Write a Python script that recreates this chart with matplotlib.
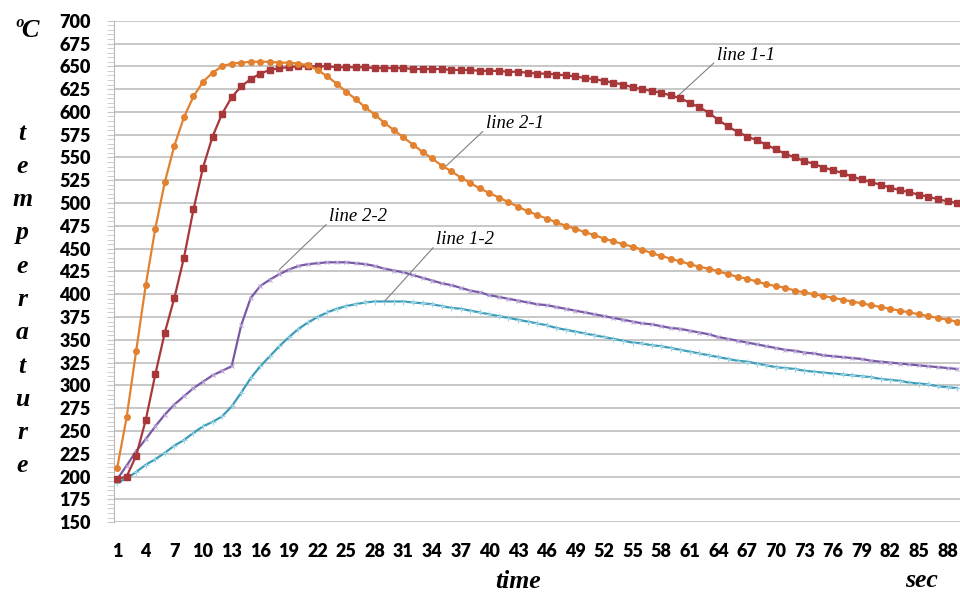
import matplotlib
matplotlib.use('Agg')
import matplotlib.pyplot as plt
import numpy as np

# time axis (sec)
time = np.arange(1, 90)

# line 1-1 (red squares)
line_1_1 = [197, 200, 223, 262, 312, 358, 396, 440, 493, 539,
            573, 598, 616, 628, 636, 642, 646, 648, 649, 650,
            650, 650, 650, 649, 649, 649, 649, 648, 648, 648,
            648, 647, 647, 647, 647, 646, 646, 646, 645, 645,
            645, 644, 644, 643, 642, 642, 641, 640, 639, 637,
            636, 634, 632, 630, 627, 625, 623, 621, 618, 615,
            610, 605, 599, 591, 584, 578, 573, 569, 564, 559,
            554, 550, 546, 543, 539, 536, 533, 529, 526, 523,
            520, 517, 514, 512, 509, 507, 504, 502, 500]

# line 2-1 (orange dots)
line_2_1 = [209, 265, 338, 410, 472, 523, 563, 594, 617, 633,
            643, 650, 653, 654, 655, 655, 655, 654, 654, 653,
            651, 646, 639, 631, 622, 614, 605, 597, 588, 580,
            572, 564, 556, 549, 541, 535, 528, 522, 516, 511,
            506, 501, 496, 491, 487, 483, 479, 475, 472, 468,
            465, 461, 458, 455, 452, 449, 445, 442, 439, 436,
            433, 430, 428, 425, 422, 419, 417, 414, 411, 409,
            407, 404, 402, 400, 398, 396, 394, 392, 390, 388,
            386, 384, 382, 380, 378, 376, 374, 372, 370]

# line 2-2 (purple)
line_2_2 = [197, 212, 228, 241, 255, 268, 279, 288, 297, 304,
            311, 316, 321, 366, 396, 409, 416, 422, 427, 431,
            433, 434, 435, 435, 435, 434, 433, 431, 428, 426,
            424, 421, 418, 415, 412, 410, 407, 404, 402, 399,
            397, 395, 393, 391, 389, 388, 386, 384, 382, 380,
            378, 376, 374, 372, 370, 368, 367, 365, 363, 362,
            360, 358, 356, 353, 351, 349, 347, 345, 343, 341,
            339, 338, 336, 335, 333, 332, 331, 330, 329, 327,
            326, 325, 324, 323, 322, 321, 320, 319, 318]

# line 1-2 (teal)
line_1_2 = [193, 198, 205, 213, 219, 226, 234, 240, 248, 255,
            260, 266, 277, 292, 308, 321, 332, 343, 353, 362,
            369, 375, 380, 384, 387, 389, 391, 392, 392, 392,
            392, 391, 390, 389, 387, 385, 384, 382, 380, 378,
            376, 374, 372, 370, 368, 366, 363, 361, 359, 357,
            355, 353, 351, 349, 347, 346, 344, 343, 341, 339,
            337, 335, 333, 331, 329, 327, 326, 324, 322, 320,
            319, 318, 316, 315, 314, 313, 312, 311, 310, 309,
            307, 306, 305, 303, 302, 301, 299, 298, 297]

x_ticks = list(range(1, 89, 3))
y_ticks = list(range(150, 701, 25))

fig = plt.figure(figsize=(9.6, 5.92), dpi=100)
ax = fig.add_axes([0.119, 0.118, 0.881, 0.847])

ax.plot(time, line_1_1, color='#A8373A', lw=1.6, marker='s', ms=4.5, zorder=4)
ax.plot(time, line_2_1, color='#E2812F', lw=1.6, marker='o', ms=4, zorder=4)
ax.plot(time, line_2_2, color='#7859A5', lw=1.6, marker='x', ms=3,
        mec='#B9A8D8', mew=0.8, zorder=3)
ax.plot(time, line_1_2, color='#3C9DB9', lw=1.6, marker='+', ms=4,
        mec='#9DD3E3', mew=0.8, zorder=3)

ax.set_xlim(0.7, 89.3)
ax.set_ylim(150, 700)
ax.set_yticks(y_ticks)
ax.set_yticks(range(150, 701, 5), minor=True)
ax.set_xticks(x_ticks)
ax.grid(axis='y', color='#B8B8B8', lw=1.1)
ax.set_axisbelow(True)
for s in ['top', 'right', 'bottom']:
    ax.spines[s].set_visible(False)
ax.spines['left'].set_color('#B8B8B8')
ax.tick_params(axis='y', which='both', color='#C8C8C8', length=5, pad=12)
ax.tick_params(axis='x', length=0, pad=15)
for lab in ax.get_xticklabels() + ax.get_yticklabels():
    lab.set_fontfamily('Lato')
    lab.set_fontweight('heavy')
    lab.set_fontsize(13)

# leader labels
notes = [('line 1-1', (59.6, 616), (63.8, 662)),
         ('line 2-1', (35.4, 540), (39.6, 587)),
         ('line 2-2', (18.0, 427), (23.2, 485)),
         ('line 1-2', (29.0, 392), (34.4, 460))]
for txt, xy, xyt in notes:
    ax.annotate(txt, xy=xy, xytext=xyt, ha='left', va='center',
                fontfamily='Liberation Serif', fontstyle='italic', fontsize=13.5,
                arrowprops=dict(arrowstyle='-', color='#808080', lw=0.8,
                                shrinkA=0, shrinkB=0, relpos=(0, 0.2)))

serif = dict(fontfamily='Liberation Serif', fontstyle='italic', fontweight='bold')
fig.text(0.028, 0.949, 'ºC', ha='center', va='center', fontsize=19, **serif)
letters = list('temperature')
for i, ch in enumerate(letters):
    fig.text(0.023, 1 - (133 + i * 33.3) / 592, ch, ha='center', va='center',
             fontsize=18.5, **serif)
fig.text(0.54, 0.018, 'time', ha='center', va='center', fontsize=18.5, **serif)
fig.text(0.96, 0.02, 'sec', ha='center', va='center', fontsize=18.5, **serif)

fig.savefig('out.png', dpi=100)
